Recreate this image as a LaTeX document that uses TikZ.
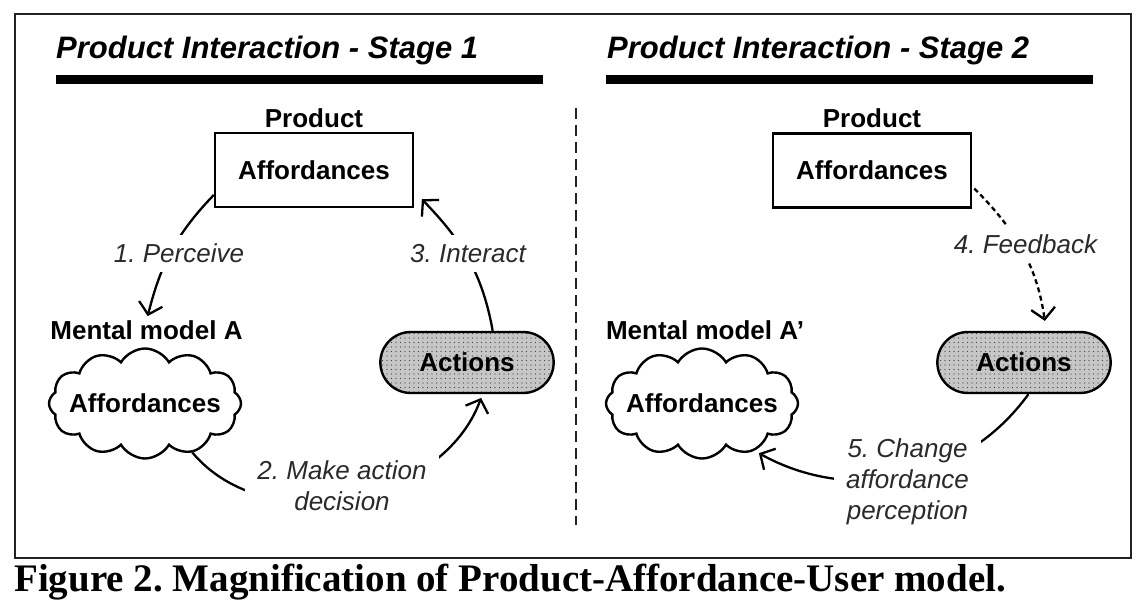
\documentclass[tikz,border=0pt]{standalone}
\usepackage{fontspec}
\setmainfont{Liberation Sans}
\newfontfamily\serifschrift{Liberation Serif}
\usetikzlibrary{arrows.meta, calc, positioning, shapes.symbols, shapes.misc,
                 patterns.meta, backgrounds}
\definecolor{fuell}{HTML}{C6C6C6}
\definecolor{schrift}{HTML}{2A2A2A}
\definecolor{rahmen}{HTML}{222222}
\newcommand{\grund}{\fontsize{26}{31}\selectfont}

\begin{document}
\frenchspacing
\begin{tikzpicture}[
    x=1pt, y=1pt,
    kasten/.style={draw, line width=2.4pt, minimum width=198pt,
      minimum height=74pt, font=\grund\bfseries},
    wolke/.style={cloud, draw, line width=2.4pt, cloud puffs=12,
      cloud puff arc=120, cloud ignores aspect, minimum width=192pt,
      minimum height=110pt, inner sep=0pt},
    wolkentext/.style={font=\grund\bfseries, inner sep=0pt},
    aktion/.style={rounded rectangle, draw, line width=2.4pt,
      minimum width=180pt, minimum height=61pt, preaction={fill=fuell},
      pattern={Dots[distance=4.5pt, radius=0.6pt]}, pattern color=black!75,
      font=\grund\bfseries},
    kopf/.style={font=\grund\bfseries, inner sep=0pt},
    schritt/.style={font=\grund\itshape, text=schrift, fill=white,
      align=center, inner xsep=12pt, inner ysep=9pt},
    titel/.style={font=\fontsize{31}{37}\selectfont\bfseries\itshape,
      inner sep=0pt, anchor=base west},
    pfeil/.style={line width=2.3pt, -{Straight Barb[length=11pt, width=24pt]}},
  ]
  \useasboundingbox (0,0) rectangle (1148,608);
  \draw[line width=2.6pt, rahmen] (15,50) rectangle (1131,594);

  % Ueberschriften
  \node[titel] (titelL) at (56,549) {Product Interaction - Stage 1};
  \node[titel] (titelR) at (607,549) {Product Interaction - Stage 2};
  \draw[line width=9pt] (56,528) -- (543,528);
  \draw[line width=9pt] (606,528) -- (1093,528);

  % Trennlinie
  \draw[line width=1.4pt, rahmen, dash pattern=on 11pt off 6pt]
    (576,500) -- (576,83);

  % Stufe 1
  \node[kasten] (boxL) at (314,438) {Affordances};
  \node[kopf, above=4pt of boxL] (prodL) {Product};
  \node[wolke, label={[wolkentext]center:Affordances}] (wolkeL)
    at (145,204.5) {};
  \node[kopf, anchor=base] (modellL) at (146.5,268) {Mental model A};
  \node[aktion] (aktionL) at (467,245.5) {Actions};
  \node[schritt] (wahrnehmen) at (179,354.5) {1. Perceive};
  \node[schritt] (entscheiden) at (342,122) {2. Make action\\decision};
  \node[schritt] (interagieren) at (468,354.5) {3. Interact};

  % Stufe 2
  \node[kasten] (boxR) at (872,437.5) {Affordances};
  \node[kopf, above=4pt of boxR] (prodR) {Product};
  \node[wolke, label={[wolkentext]center:Affordances}] (wolkeR)
    at (702,204.5) {};
  \node[kopf, anchor=base] (modellR) at (705,268) {Mental model A'};
  \node[aktion] (aktionR) at (1024,245.5) {Actions};
  \node[schritt] (rueckmeldung) at (1025.5,363.5) {4. Feedback};
  \node[schritt] (aendern) at (907.5,126) {5. Change\\affordance\\perception};

  % Verbindungen hinter den Beschriftungen
  \begin{scope}[on background layer]
    \draw[pfeil, shorten >=5pt] (boxL.194) to[out=226, in=76] (modellL.north);
    \draw[pfeil, shorten >=4pt] (wolkeL.-46) to[out=-50, in=250] (aktionL.-64);
    \draw[pfeil, shorten >=11pt] (aktionL.51) to[out=100, in=-46] (boxL.-12);
    \draw[pfeil, dash pattern=on 5pt off 3.5pt, shorten <=3pt, shorten >=10pt]
      (boxR.-9) to[out=-45, in=98] (aktionR.55);
    \draw[pfeil, shorten >=5pt] (aktionR.-82) to[out=234, in=-29] (wolkeR.-42);
  \end{scope}

  % Bildunterschrift
  \node[font=\serifschrift\fontsize{39}{45}\selectfont\bfseries,
    anchor=base west, inner sep=0pt] (unterschrift) at (14,17)
    {Figure 2. Magnification of Product-Affordance-User model.};
\end{tikzpicture}
\end{document}
